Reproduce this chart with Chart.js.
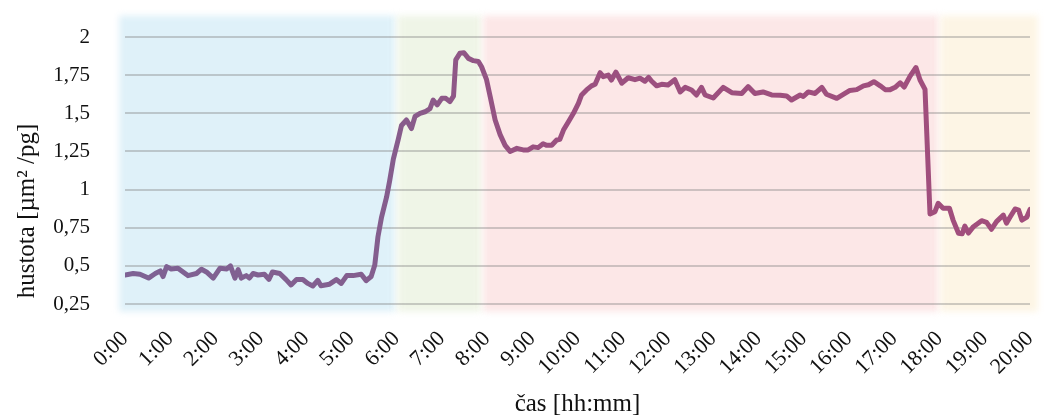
<!DOCTYPE html>
<html>
<head>
<meta charset="utf-8">
<script src="https://cdn.jsdelivr.net/npm/chart.js@4/dist/chart.umd.min.js"></script>
<style>
    html, body { margin: 0; padding: 0; background: #fff; }
    #wrap { width: 1045px; height: 419px; position: relative; }
</style>
</head>
<body>
<div id="wrap"><canvas id="densityChart"></canvas></div>
<script>
// Čas v hodinách (0 = 0:00) a naměřená hustota
const hours = [
    0.0, 0.18, 0.33, 0.52, 0.67, 0.78, 0.84, 0.92, 1.02, 1.17, 1.39, 1.58, 1.69, 1.8, 1.95,
    2.1, 2.25, 2.33, 2.43, 2.5, 2.57, 2.68, 2.75, 2.83, 2.94, 3.08, 3.18, 3.26, 3.42, 3.56,
    3.67, 3.79, 3.93, 4.04, 4.15, 4.26, 4.33, 4.52, 4.67, 4.78, 4.9, 5.04, 5.22, 5.33, 5.44,
    5.52, 5.59, 5.67, 5.78, 5.85, 5.93, 6.04, 6.11, 6.22, 6.33, 6.41, 6.52, 6.63, 6.74, 6.81,
    6.9, 7.0, 7.09, 7.18, 7.26, 7.31, 7.4, 7.49, 7.59, 7.7, 7.81, 7.88, 7.99, 8.07, 8.18,
    8.29, 8.4, 8.51, 8.66, 8.8, 8.91, 9.02, 9.13, 9.24, 9.32, 9.43, 9.54, 9.61, 9.69, 9.8,
    9.91, 10.02, 10.09, 10.2, 10.31, 10.39, 10.5, 10.57, 10.68, 10.75, 10.85, 10.98, 11.12, 11.27, 11.38,
    11.49, 11.57, 11.64, 11.75, 11.86, 12.0, 12.15, 12.27, 12.38, 12.52, 12.63, 12.74, 12.82, 13.0, 13.22,
    13.41, 13.63, 13.77, 13.92, 14.1, 14.29, 14.48, 14.62, 14.73, 14.92, 14.99, 15.1, 15.25, 15.4, 15.5,
    15.73, 15.91, 16.02, 16.17, 16.32, 16.43, 16.55, 16.69, 16.8, 16.91, 17.02, 17.13, 17.22, 17.35, 17.48,
    17.57, 17.68, 17.79, 17.9, 17.97, 18.08, 18.22, 18.3, 18.42, 18.5, 18.56, 18.64, 18.75, 18.93, 19.04,
    19.15, 19.26, 19.41, 19.48, 19.56, 19.67, 19.75, 19.82, 19.93, 20.0
];
const density = [
    0.44, 0.45, 0.445, 0.42, 0.45, 0.467, 0.43, 0.495, 0.48, 0.485, 0.436, 0.45, 0.478, 0.46, 0.42,
    0.485, 0.48, 0.5, 0.42, 0.475, 0.42, 0.436, 0.42, 0.45, 0.44, 0.445, 0.412, 0.46, 0.45, 0.41,
    0.375, 0.41, 0.41, 0.385, 0.368, 0.405, 0.37, 0.38, 0.41, 0.385, 0.436, 0.436, 0.445, 0.403, 0.43,
    0.505, 0.69, 0.82, 0.95, 1.06, 1.2, 1.33, 1.42, 1.456, 1.40, 1.48, 1.50, 1.51, 1.53, 1.587,
    1.555, 1.598, 1.598, 1.576, 1.613, 1.85, 1.893, 1.897, 1.86, 1.845, 1.84, 1.805, 1.72, 1.61, 1.456,
    1.36, 1.29, 1.25, 1.27, 1.26, 1.26, 1.28, 1.275, 1.30, 1.29, 1.29, 1.325, 1.33, 1.39, 1.445,
    1.50, 1.565, 1.62, 1.653, 1.68, 1.69, 1.766, 1.74, 1.75, 1.718, 1.77, 1.697, 1.733, 1.72, 1.73,
    1.71, 1.735, 1.71, 1.68, 1.69, 1.685, 1.72, 1.64, 1.67, 1.653, 1.62, 1.67, 1.62, 1.60, 1.67,
    1.635, 1.63, 1.675, 1.63, 1.64, 1.62, 1.618, 1.614, 1.587, 1.62, 1.61, 1.64, 1.63, 1.67, 1.625,
    1.598, 1.63, 1.65, 1.655, 1.68, 1.687, 1.707, 1.68, 1.655, 1.655, 1.67, 1.70, 1.672, 1.744, 1.80,
    1.718, 1.657, 0.84, 0.855, 0.91, 0.877, 0.877, 0.80, 0.714, 0.71, 0.76, 0.715, 0.757, 0.796, 0.785,
    0.74, 0.79, 0.833, 0.78, 0.82, 0.873, 0.865, 0.80, 0.82, 0.87
];

// Úseky dne (v hodinách) a barvy podkladu
const periodStart = [-0.15, 6, 7.9, 18];
const periodEnd = [6, 7.9, 18, 20.2];
const periodColors = ['#dff1f9', '#eff5e7', '#fce7e7', '#fdf5e5'];

// Osa Y
const yTicks = [0.25, 0.5, 0.75, 1, 1.25, 1.5, 1.75, 2];

const FONT = 'Liberation Serif';
const TEXT = '#111';

// Podbarvení úseků s rozmazanými okraji
const periodsPlugin = {
    id: 'periods',
    beforeDraw(chart) {
        const { ctx, scales: { x, y } } = chart;
        const top = y.getPixelForValue(2.14);
        const bottom = y.getPixelForValue(0.2);
        ctx.save();
        ctx.filter = 'blur(3px)';
        periodStart.forEach((s, i) => {
            const x0 = x.getPixelForValue(s);
            const x1 = x.getPixelForValue(periodEnd[i]);
            ctx.fillStyle = periodColors[i];
            ctx.fillRect(x0 + 1, top, x1 - x0 - 2, bottom - top);
        });
        ctx.restore();
    }
};

// Popisek osy Y (posunutý níž, jako v originálu)
const yTitlePlugin = {
    id: 'yTitle',
    afterDraw(chart) {
        const { ctx } = chart;
        ctx.save();
        ctx.translate(27, 211);
        ctx.rotate(-Math.PI / 2);
        ctx.font = `25px "${FONT}"`;
        ctx.fillStyle = TEXT;
        ctx.textAlign = 'center';
        ctx.textBaseline = 'middle';
        ctx.fillText('hustota [µm² /pg]', 0, 0);
        ctx.restore();
    }
};

const ctx = document.getElementById('densityChart').getContext('2d');

new Chart(ctx, {
    type: 'line',
    data: {
        datasets: [{
            label: 'hustota',
            data: hours.map((h, i) => ({ x: h, y: density[i] })),
            borderColor: function (context) {
                const { ctx, chartArea } = context.chart;
                if (!chartArea) return '#8a5a8a';
                const g = ctx.createLinearGradient(chartArea.left, 0, chartArea.right, 0);
                g.addColorStop(0, '#7e6294');
                g.addColorStop(0.28, '#845e8e');
                g.addColorStop(0.45, '#9a5080');
                g.addColorStop(1, '#a24e7c');
                return g;
            },
            borderWidth: 5,
            borderCapStyle: 'round',
            borderJoinStyle: 'round',
            pointRadius: 0,
            tension: 0,
            fill: false
        }]
    },
    options: {
        responsive: true,
        maintainAspectRatio: false,
        animation: false,
        layout: { padding: { top: 37, right: 15, bottom: 0, left: 0 } },
        plugins: {
            legend: { display: false },
            tooltip: { enabled: false }
        },
        scales: {
            x: {
                type: 'linear',
                min: 0,
                max: 20,
                grid: { display: false },
                border: { display: false },
                ticks: {
                    stepSize: 1,
                    autoSkip: false,
                    maxRotation: 45,
                    minRotation: 45,
                    padding: 14,
                    color: TEXT,
                    font: { family: FONT, size: 22 },
                    callback: v => v + ':00'
                },
                title: {
                    display: true,
                    text: 'čas [hh:mm]',
                    color: TEXT,
                    font: { family: FONT, size: 25 },
                    padding: { top: 0, bottom: 0 }
                },
                afterFit(scale) {
                    scale.height = 115;
                    scale.paddingLeft = 0;
                    scale.paddingRight = 0;
                }
            },
            y: {
                min: 0.25,
                max: 2,
                afterBuildTicks(scale) {
                    scale.ticks = yTicks.map(v => ({ value: v }));
                },
                grid: {
                    color: 'rgba(128,128,128,0.38)',
                    lineWidth: 2,
                    drawTicks: false
                },
                border: { display: false },
                ticks: {
                    padding: 35,
                    color: TEXT,
                    font: { family: FONT, size: 21 },
                    callback: v => String(Math.round(v * 100) / 100).replace('.', ',')
                },
                afterFit(scale) {
                    scale.width = 125;
                    scale.paddingTop = 0;
                    scale.paddingBottom = 0;
                }
            }
        }
    },
    plugins: [periodsPlugin, yTitlePlugin]
});
</script>
</body>
</html>
